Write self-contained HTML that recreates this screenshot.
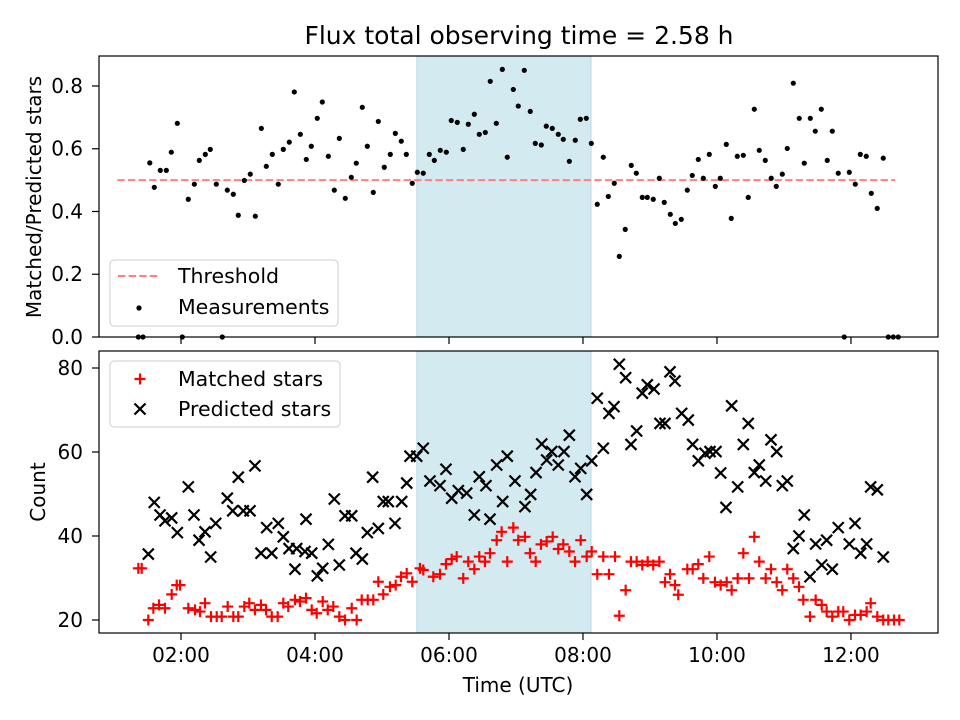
<!DOCTYPE html>
<html><head><meta charset="utf-8"><style>
body{margin:0;background:#fff;}
svg{display:block;font-family:"DejaVu Sans","Liberation Sans",sans-serif;}
</style></head><body>
<svg id="chart" width="960" height="720" viewBox="0 0 960 720"></svg>
<script>
// ---- data ----
const ratioTimes=[1.363,1.433,1.534,1.601,1.691,1.781,1.855,1.945,2.019,2.109,2.199,2.273,2.363,2.437,2.527,2.616,2.691,2.781,2.855,2.945,3.034,3.109,3.199,3.273,3.363,3.452,3.527,3.616,3.691,3.781,3.870,3.945,4.034,4.109,4.199,4.288,4.363,4.452,4.542,4.616,4.706,4.781,4.870,4.945,5.034,5.124,5.199,5.288,5.363,5.452,5.527,5.616,5.706,5.781,5.870,5.960,6.034,6.124,6.213,6.288,6.378,6.452,6.542,6.616,6.706,6.796,6.870,6.960,7.034,7.124,7.213,7.288,7.378,7.452,7.542,7.631,7.706,7.796,7.885,7.960,8.049,8.124,8.213,8.303,8.378,8.467,8.542,8.631,8.721,8.796,8.885,8.960,9.049,9.139,9.213,9.303,9.378,9.467,9.557,9.631,9.721,9.796,9.885,9.975,10.049,10.139,10.213,10.303,10.393,10.467,10.557,10.631,10.721,10.810,10.885,10.975,11.049,11.139,11.228,11.303,11.393,11.467,11.557,11.646,11.721,11.810,11.900,11.975,12.064,12.139,12.228,12.303,12.392,12.482,12.557,12.631,12.706];
const ratioValues=[0,0,.555,.477,.531,.531,.589,.681,0,.439,.487,.563,.582,.598,.487,0,.468,.455,.388,.499,.519,.385,.665,.544,.582,.487,.598,.621,.781,.646,.566,.608,.697,.749,.576,.468,.633,.442,.509,.554,.732,.608,.461,.687,.541,.582,.649,.624,.582,.490,.525,.522,.582,.563,.595,.589,.690,.684,.598,.678,.710,.646,.652,.815,.681,.853,.573,.789,.736,.850,.719,.617,.612,.672,.665,.646,.630,.560,.627,.694,.697,.617,.423,.573,.448,.490,.257,.343,.547,.522,.445,.445,.439,.506,.429,.391,.362,.375,.468,.515,.566,.506,.582,.480,.506,.614,.378,.576,.579,.445,.726,.595,.563,.506,.480,.519,.601,.809,.697,.554,.697,.656,.726,.563,.656,.522,0,.525,.487,.582,.576,.458,.410,.570,0,0,0];
const predTimes=[1.512,1.601,1.687,1.761,1.861,1.945,2.109,2.194,2.269,2.358,2.443,2.518,2.691,2.772,2.855,2.930,3.030,3.104,3.194,3.279,3.354,3.452,3.527,3.612,3.701,3.727,3.851,3.866,3.951,4.034,4.115,4.199,4.288,4.363,4.448,4.548,4.612,4.706,4.781,4.861,4.945,5.019,5.094,5.194,5.294,5.369,5.418,5.518,5.616,5.716,5.866,5.955,6.040,6.139,6.264,6.378,6.452,6.552,6.612,6.712,6.801,6.870,6.985,7.134,7.219,7.299,7.384,7.458,7.533,7.631,7.716,7.796,7.881,7.966,8.055,8.130,8.213,8.303,8.388,8.463,8.542,8.637,8.716,8.801,8.885,8.960,9.060,9.149,9.224,9.299,9.373,9.473,9.572,9.637,9.721,9.821,9.896,9.985,10.055,10.134,10.219,10.309,10.393,10.467,10.557,10.631,10.727,10.806,10.891,10.975,11.049,11.139,11.224,11.303,11.388,11.473,11.563,11.637,11.721,11.810,11.975,12.060,12.145,12.234,12.294,12.393,12.482];
const predValues=[35.7,48,45,43.6,44.3,40.8,51.7,45,39,41,35,43,49,46,54,46,46,56.7,35.9,42,35.9,43,39.8,37,32.1,37,36.3,44,35.9,30.5,32.3,38,48.8,33.1,44.8,44.8,35.9,34.5,40.8,54,41.8,48.2,48.2,43,48.2,52.6,59,59,60.9,53.1,52,55.9,49,50.8,50.2,45,54.1,52,44,56.9,48.2,59,53.1,47,49.9,55.1,61.9,58.1,60.1,56.9,60.1,64,54.1,56.1,49.9,57.9,72.8,60.9,69.2,70.8,80.9,77.7,61.8,65,74,76,75,66.8,66.8,79.1,76.9,69.2,67.6,61.8,57.9,59.7,60.1,60.1,55,46.8,71,51.7,61.8,66.8,55.1,56.9,53.1,62.9,60.1,52,53.1,37,40,45,30.3,38.1,33.1,39,32.1,42,38.1,43,35.9,38.1,51.7,51,35];
const matchTimes=[1.363,1.413,1.512,1.587,1.672,1.761,1.861,1.936,1.985,2.109,2.209,2.284,2.358,2.448,2.533,2.607,2.697,2.781,2.855,2.945,3.019,3.104,3.194,3.269,3.354,3.443,3.527,3.601,3.701,3.776,3.866,3.951,4.025,4.115,4.190,4.273,4.363,4.448,4.548,4.622,4.697,4.787,4.870,4.945,5.019,5.119,5.204,5.284,5.369,5.452,5.567,5.616,5.766,5.866,5.955,6.040,6.115,6.213,6.288,6.378,6.452,6.537,6.612,6.712,6.786,6.870,6.960,7.034,7.134,7.209,7.294,7.373,7.458,7.548,7.631,7.706,7.796,7.881,7.966,8.055,8.130,8.213,8.303,8.388,8.478,8.542,8.637,8.716,8.801,8.885,8.966,9.049,9.139,9.224,9.299,9.373,9.422,9.557,9.637,9.721,9.796,9.885,9.970,10.055,10.145,10.219,10.309,10.393,10.478,10.557,10.631,10.727,10.806,10.891,10.975,11.049,11.139,11.224,11.288,11.388,11.473,11.563,11.637,11.721,11.810,11.885,11.975,12.060,12.145,12.234,12.294,12.393,12.482,12.557,12.642,12.721];
const matchValues=[32.3,32.3,20,22.8,23.6,22.8,26.1,28.3,28.3,22.8,22.4,22,24,20.8,20.8,20.8,23.2,20.8,20.8,23.2,24,22.4,23.6,22.4,20.8,20.8,24,23.2,24.8,24.4,25.2,22.4,21.6,24.4,22.4,23.2,20.8,20,22.8,20,24.8,24.8,24.8,29.1,26.1,27.9,28.3,30.3,31.1,29.1,32.3,31.9,30.3,30.9,33.3,34.5,35.1,29.9,33.9,32.1,35.1,33.9,35.9,39,41,33.9,42,39,39.8,35.9,33.9,38,38.7,39.8,36.9,38,36.3,33.9,39,35.1,36.3,30.9,35.1,30.9,35.1,21,27.1,33.9,33.9,33.1,33.9,33.1,33.9,29,30.9,28.3,26,32.1,32.1,33.3,29.9,35.1,29,28.3,29,27.1,29.9,35.9,29.9,39.8,33.9,29.9,32.1,29,27.1,32.1,29.9,27.9,24.8,20.8,24.8,23.6,22,20.8,22,22,20,21.2,21.2,22,24,20.8,20,20,20,20];
const threshold=0.5, threshRange=[1.05,12.66];
const spanRange=[5.52,8.12];
const xTickHours=[2,4,6,8,10,12];
const xTickLabels=["02:00","04:00","06:00","08:00","10:00","12:00"];
const topTicks=[0,0.2,0.4,0.6,0.8];
const topTickLabels=["0.0","0.2","0.4","0.6","0.8"];
const botTicks=[20,40,60,80];
const botTickLabels=["20","40","60","80"];

// ---- layout ----
const L=99,R=938,T1=56,B1=337,T2=351,B2=633;
const XMIN=0.776,XMAX=13.299;
const x=h=>L+(h-XMIN)/(XMAX-XMIN)*(R-L);
const y1=v=>B1-(v-0)/(0.8956-0)*(B1-T1);
const y2=v=>B2-(v-16.9)/(84.05-16.9)*(B2-T2);
const NS="http://www.w3.org/2000/svg";
const svg=document.getElementById('chart');
function mk(tag,attrs,parent){const e=document.createElementNS(NS,tag);for(const k in attrs)e.setAttribute(k,attrs[k]);(parent||svg).appendChild(e);return e;}

// spans
[[T1,B1,'top'],[T2,B2,'bottom']].forEach(([t,b,n])=>{
  const r=mk('rect',{x:x(spanRange[0]),y:t,width:x(spanRange[1])-x(spanRange[0]),height:b-t,fill:'#d4eaf1',stroke:'#b5dbe8','stroke-width':1});
  
  
});

// threshold
const th=mk('line',{x1:x(threshRange[0]),x2:x(threshRange[1]),y1:y1(threshold),y2:y1(threshold),stroke:'#ff8080','stroke-width':2,'stroke-dasharray':'7.4,3.2'});



// measurements
ratioTimes.forEach((t,i)=>{
  const c=mk('circle',{cx:x(t),cy:y1(ratioValues[i]),r:2.6,fill:'#000'});
  
  
});

// matched (+)
matchTimes.forEach((t,i)=>{
  const cx=x(t),cy=y2(matchValues[i]);
  const p=mk('path',{d:`M${cx-5.5},${cy}H${cx+5.5}M${cx},${cy-5.5}V${cy+5.5}`,stroke:'#ff0000','stroke-width':2.2,fill:'none'});
  
  
});
// predicted (x)
predTimes.forEach((t,i)=>{
  const cx=x(t),cy=y2(predValues[i]);
  const p=mk('path',{d:`M${cx-5.5},${cy-5.5}L${cx+5.5},${cy+5.5}M${cx-5.5},${cy+5.5}L${cx+5.5},${cy-5.5}`,stroke:'#000','stroke-width':2.2,fill:'none'});
  
  
});

// axes frames
[[T1,B1,'top'],[T2,B2,'bottom']].forEach(([t,b,n])=>{
  const r=mk('rect',{x:L,y:t,width:R-L,height:b-t,fill:'none',stroke:'#000','stroke-width':1.2});
  
  
});

// x ticks
xTickHours.forEach((h,i)=>{
  const xx=x(h);
  const t1=mk('line',{x1:xx,x2:xx,y1:B1,y2:B1+7,stroke:'#000','stroke-width':1.2});
  
  
  const t2=mk('line',{x1:xx,x2:xx,y1:B2,y2:B2+7,stroke:'#000','stroke-width':1.2});
  
  
  const tx=mk('text',{x:xx,y:B2+29,'text-anchor':'middle','font-size':'20px',fill:'#000'});
  tx.textContent=xTickLabels[i];
  
  
});
// y ticks
topTicks.forEach((v,i)=>{
  const yy=y1(v);
  const l=mk('line',{x1:L-7,x2:L,y1:yy,y2:yy,stroke:'#000','stroke-width':1.2});
  
  
  const tx=mk('text',{x:L-16,y:yy+7,'text-anchor':'end','font-size':'20px',fill:'#000'});
  tx.textContent=topTickLabels[i];
  
  
});
botTicks.forEach((v,i)=>{
  const yy=y2(v);
  const l=mk('line',{x1:L-7,x2:L,y1:yy,y2:yy,stroke:'#000','stroke-width':1.2});
  
  
  const tx=mk('text',{x:L-16,y:yy+7,'text-anchor':'end','font-size':'20px',fill:'#000'});
  tx.textContent=botTickLabels[i];
  
  
});
</script>
<svg width="960" height="720" style="position:absolute;left:0;top:0;font-family:'DejaVu Sans','Liberation Sans',sans-serif">
  <text x="519" y="44" text-anchor="middle" font-size="25px">Flux total observing time = 2.58 h</text>
  <text x="518" y="692" text-anchor="middle" font-size="20px">Time (UTC)</text>
  <text transform="translate(41,197) rotate(-90)" text-anchor="middle" font-size="20px">Matched/Predicted stars</text>
  <text transform="translate(45,492) rotate(-90)" text-anchor="middle" font-size="20px">Count</text>
  <g>
    <rect x="110" y="260" width="228" height="66" rx="4" fill="#fff" fill-opacity="0.8" stroke="#cccccc"/>
    <line x1="118" x2="160" y1="276" y2="276" stroke="#ff8080" stroke-width="2" stroke-dasharray="7.4,3.2"/>
    <text x="178" y="283" font-size="20.5px">Threshold</text>
    <circle cx="139" cy="308" r="2.6" fill="#000"/>
    <text x="178" y="314" font-size="20.5px">Measurements</text>
  </g>
  <g>
    <rect x="110" y="361" width="230" height="66" rx="4" fill="#fff" fill-opacity="0.8" stroke="#cccccc"/>
    <path d="M134.5,379H145.5M140,373.5V384.5" stroke="#ff0000" stroke-width="2.2"/>
    <text x="178" y="386" font-size="20.5px">Matched stars</text>
    <path d="M134.5,403.5L145.5,414.5M134.5,414.5L145.5,403.5" stroke="#000" stroke-width="2.2"/>
    <text x="178" y="416" font-size="20.5px">Predicted stars</text>
  </g>
</svg>
</body></html>
